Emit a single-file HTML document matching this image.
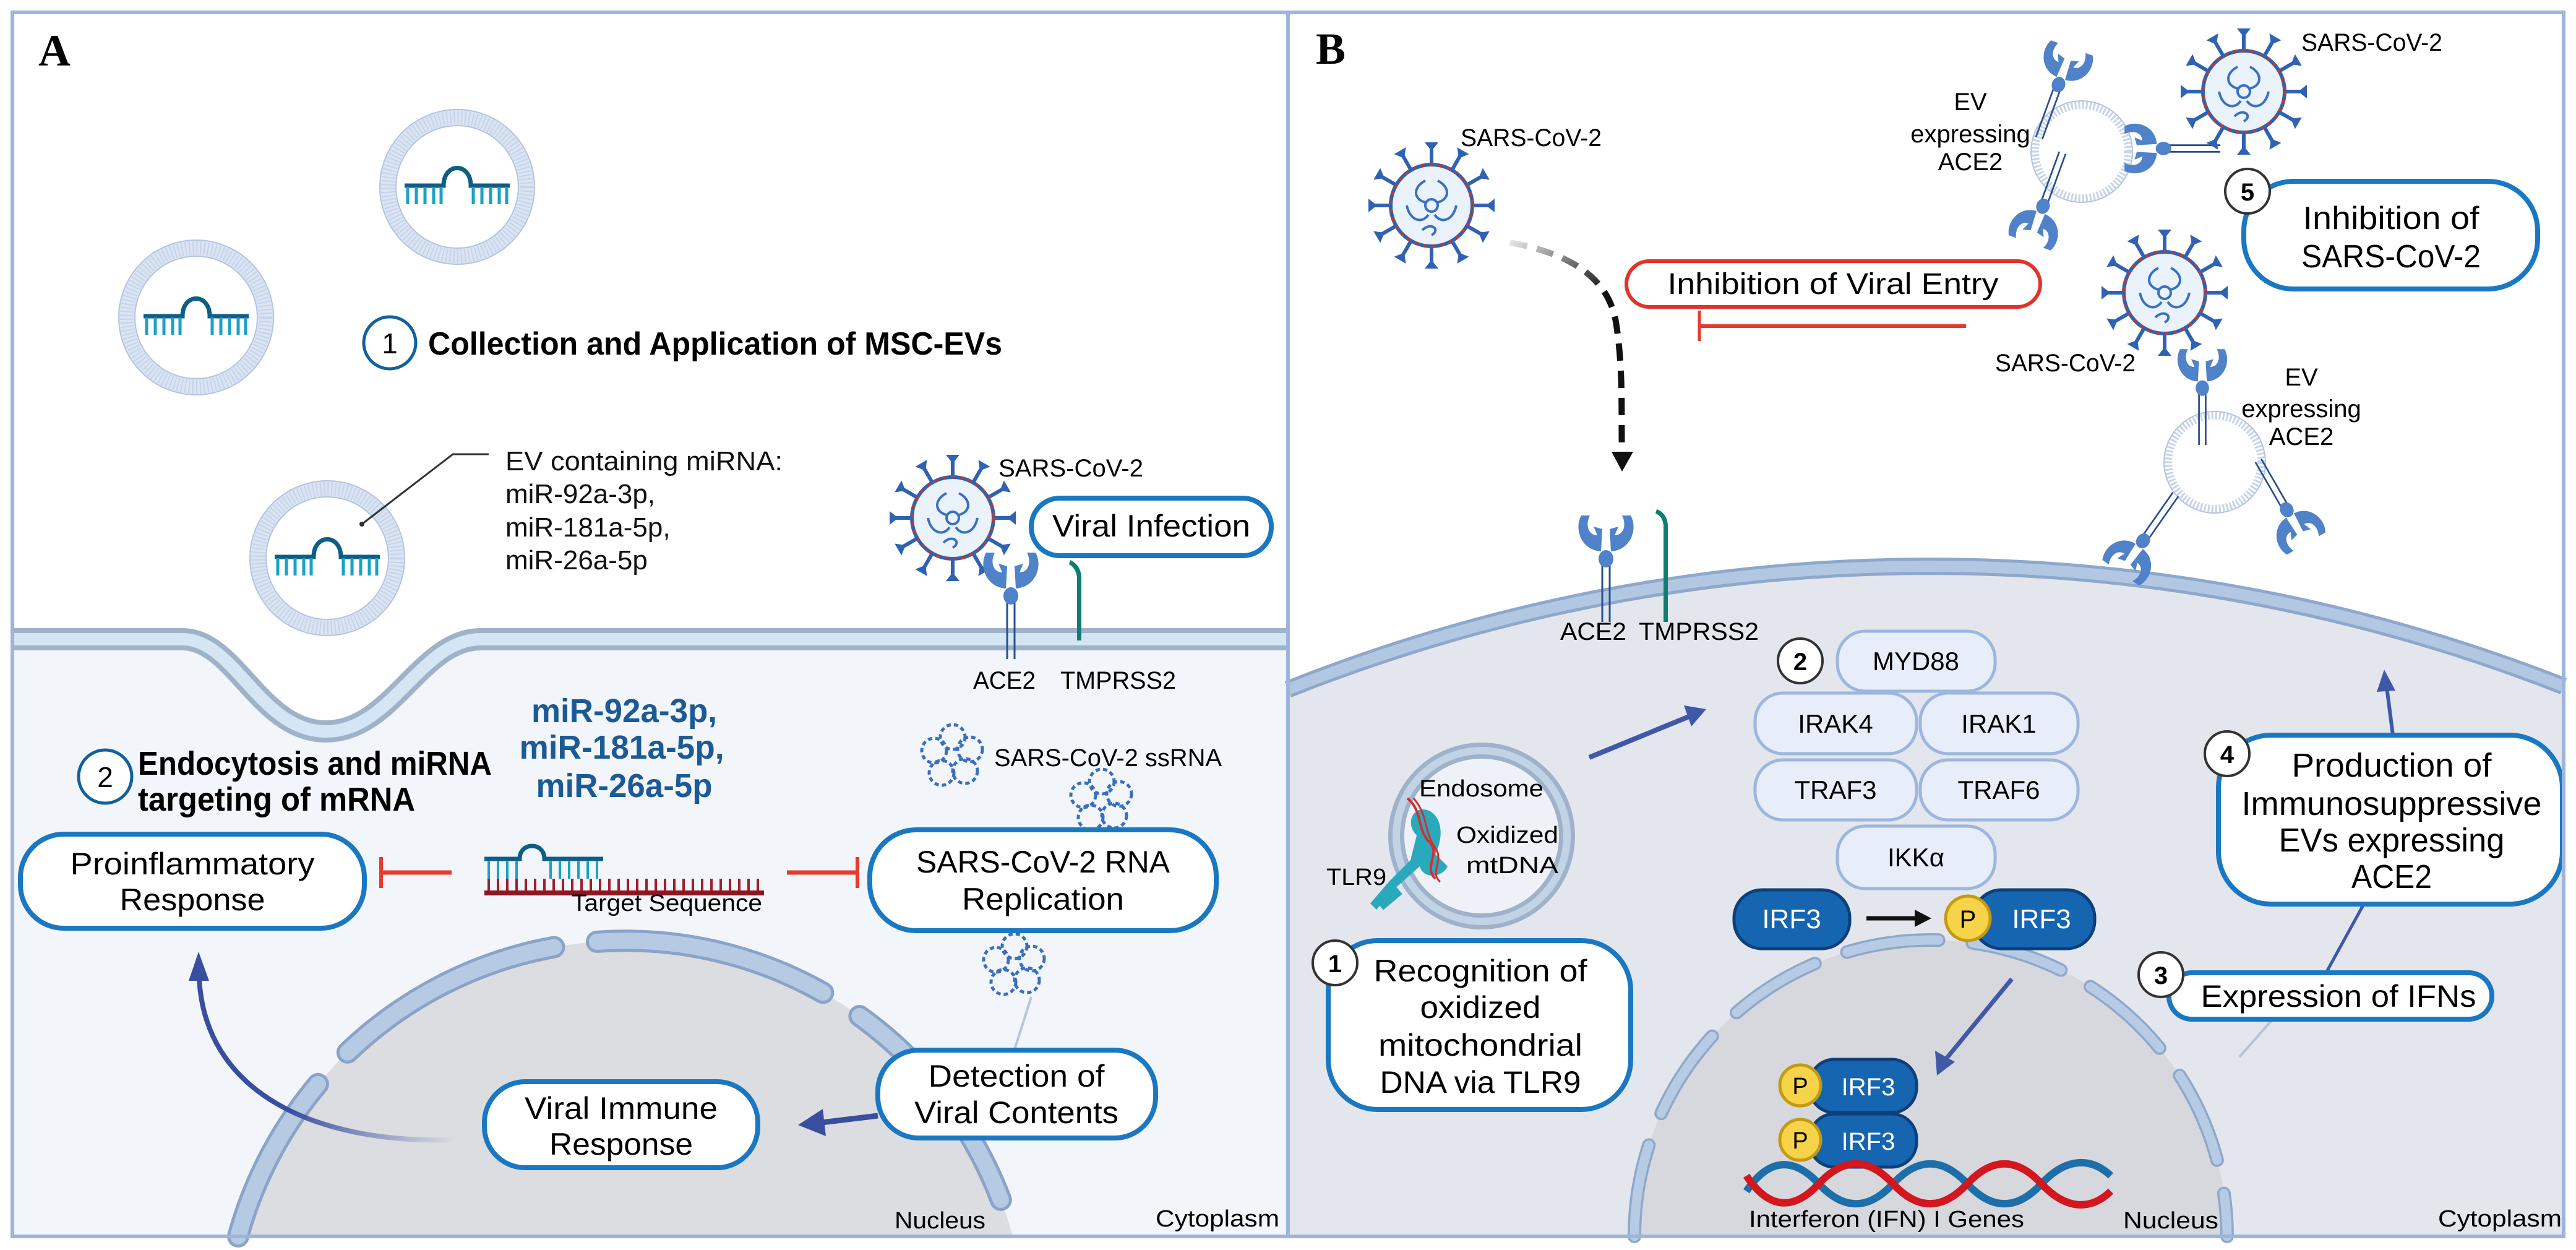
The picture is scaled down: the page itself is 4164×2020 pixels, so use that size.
<!DOCTYPE html>
<html><head><meta charset="utf-8">
<style>html,body{margin:0;padding:0;background:#fff;overflow:hidden;width:4164px;height:2020px}svg{display:block}text{font-family:"Liberation Sans",sans-serif}</style>
</head><body>
<svg width="4164" height="2020" viewBox="0 0 4164 2020" xmlns="http://www.w3.org/2000/svg">
<defs>
<g id="spike"><line x1="0" y1="-66" x2="0" y2="-92" stroke="#2f62b3" stroke-width="6"/><path d="M-11,-102 L11,-102 L0,-88 Z" fill="#2f62b3"/></g>
<g id="virus">
 <use href="#spike" transform="rotate(0)"/><use href="#spike" transform="rotate(30)"/><use href="#spike" transform="rotate(60)"/><use href="#spike" transform="rotate(90)"/><use href="#spike" transform="rotate(120)"/><use href="#spike" transform="rotate(150)"/><use href="#spike" transform="rotate(180)"/><use href="#spike" transform="rotate(210)"/><use href="#spike" transform="rotate(240)"/><use href="#spike" transform="rotate(270)"/><use href="#spike" transform="rotate(300)"/><use href="#spike" transform="rotate(330)"/>
 <circle r="66" fill="#eaf2fb" stroke="#2f62b3" stroke-width="6"/>
 <circle r="66" fill="none" stroke="#c0392b" stroke-width="5" stroke-dasharray="5 9"/>
 <g fill="none" stroke="#3a70c2" stroke-width="4">
  <path d="M-10,-40 C-30,-30 -30,-10 -10,-5"/><path d="M10,-40 C30,-30 30,-10 10,-5"/>
  <path d="M-40,0 C-35,25 -15,30 -5,15"/><path d="M40,0 C35,25 15,30 5,15"/>
  <path d="M-15,40 C0,25 15,40 0,48"/><circle r="10"/>
 </g>
</g>
<g id="mirna">
 <path d="M-85,0 L-22,0 C-22,-38 22,-38 22,0 L85,0" fill="none" stroke="#0e5d86" stroke-width="7"/>
 <g stroke="#1aa2c6" stroke-width="5"><line x1="-80" y1="2" x2="-80" y2="30"/><line x1="-66" y1="2" x2="-66" y2="30"/><line x1="-52" y1="2" x2="-52" y2="30"/><line x1="-38" y1="2" x2="-38" y2="30"/><line x1="-26" y1="2" x2="-26" y2="30"/><line x1="26" y1="2" x2="26" y2="30"/><line x1="40" y1="2" x2="40" y2="30"/><line x1="54" y1="2" x2="54" y2="30"/><line x1="68" y1="2" x2="68" y2="30"/><line x1="80" y1="2" x2="80" y2="30"/></g>
</g>
<g id="ev">
 <circle r="112" fill="#fff" stroke="#dbe4f2" stroke-width="26"/>
 <circle r="112" fill="none" stroke="#c5d3ea" stroke-width="22" stroke-dasharray="2 4"/>
 <circle r="125" fill="none" stroke="#b3c4e0" stroke-width="2"/>
 <circle r="99" fill="none" stroke="#b3c4e0" stroke-width="2"/>
</g>
<g id="ace2">
 <line x1="-6" y1="0" x2="-6" y2="110" stroke="#2a4f8f" stroke-width="3"/>
 <line x1="6" y1="0" x2="6" y2="110" stroke="#2a4f8f" stroke-width="3"/>
 <ellipse cx="0" cy="8" rx="12" ry="14" fill="#4f82c8"/>
 <path d="M-8,-4 C-40,-6 -52,-40 -40,-62 L-26,-62 C-34,-46 -28,-30 -14,-30 L-20,-44 L-6,-40 Z" fill="#4f82c8"/>
 <path d="M8,-4 C40,-6 52,-40 40,-62 L26,-62 C34,-46 28,-30 14,-30 L20,-44 L6,-40 Z" fill="#4f82c8"/>
</g>
<g id="rna" fill="none" stroke="#3a6fc0" stroke-width="5" stroke-dasharray="7 5">
 <circle cx="0" cy="-30" r="20"/><circle cx="28" cy="-10" r="20"/><circle cx="20" cy="25" r="20"/><circle cx="-18" cy="28" r="20"/><circle cx="-30" cy="-8" r="20"/>
</g>
<linearGradient id="gA" gradientUnits="userSpaceOnUse" x1="740" y1="1840" x2="320" y2="1560"><stop offset="0" stop-color="#3a4ea0" stop-opacity="0"/><stop offset="0.5" stop-color="#3a4ea0"/><stop offset="1" stop-color="#3a4ea0"/></linearGradient>
<linearGradient id="gD" gradientUnits="userSpaceOnUse" x1="2441" y1="390" x2="2620" y2="600"><stop offset="0" stop-color="#111" stop-opacity="0.1"/><stop offset="0.6" stop-color="#111"/></linearGradient>
</defs>

<path d="M20,1033 L295,1033 C380,1033 420,1182 527,1182 C634,1182 680,1033 777,1033 L2082,1033 L2082,1998 L20,1998 Z" fill="#f2f5fa"/>
<path d="M385,1998 A649,649 0 0 1 1637,1998 Z" fill="#dcdde1"/>
<path d="M385,1998 A649,649 0 0 1 1637,1998" fill="none" stroke="#8aa3c8" stroke-width="36" stroke-dasharray="380 70" stroke-dashoffset="100" stroke-linecap="round"/>
<path d="M385,1998 A649,649 0 0 1 1637,1998" fill="none" stroke="#b6cae4" stroke-width="26" stroke-dasharray="380 70" stroke-dashoffset="100" stroke-linecap="round"/>
<path d="M23,1033 L295,1033 C380,1033 420,1182 527,1182 C634,1182 680,1033 777,1033 L2080,1033" fill="none" stroke="#9fb3c8" stroke-width="36"/>
<path d="M23,1033 L295,1033 C380,1033 420,1182 527,1182 C634,1182 680,1033 777,1033 L2080,1033" fill="none" stroke="#d4e6f4" stroke-width="20"/>
<text x="62" y="106" font-weight="bold" font-size="72" style="font-family:'Liberation Serif',serif">A</text>

<use href="#ev" x="739" y="302"/><use href="#mirna" x="739" y="300"/>
<use href="#ev" x="317" y="513"/><use href="#mirna" x="317" y="511"/>
<use href="#ev" x="529" y="902"/><use href="#mirna" x="529" y="900"/>

<circle cx="630" cy="554" r="42" fill="#fff" stroke="#12609c" stroke-width="5"/>
<text x="630" y="571" text-anchor="middle" font-size="46">1</text>
<text x="692" y="573" font-size="52" font-weight="bold" textLength="928" lengthAdjust="spacingAndGlyphs">Collection and Application of MSC-EVs</text>

<polyline points="790,734 732,734 585,847" fill="none" stroke="#333" stroke-width="3"/>
<circle cx="585" cy="847" r="4" fill="#333"/>
<g font-size="44" fill="#111">
 <text x="817" y="760" textLength="448" lengthAdjust="spacingAndGlyphs">EV containing miRNA:</text>
 <text x="817" y="813">miR-92a-3p,</text>
 <text x="817" y="867">miR-181a-5p,</text>
 <text x="817" y="920">miR-26a-5p</text>
</g>

<use href="#virus" x="1540" y="837"/>
<text x="1614" y="770" font-size="40" textLength="234" lengthAdjust="spacingAndGlyphs">SARS-CoV-2</text>
<use href="#ace2" x="1634" y="955"/>
<path d="M1741,1035 L1741,935 C1741,925 1735,915 1728,912 L1730,905 C1740,910 1748,918 1748,935 L1748,1035 Z" fill="#0f7d74"/>
<rect x="1667" y="805" width="388" height="93" rx="46" fill="#fff" stroke="#1a78c2" stroke-width="8"/>
<text x="1861" y="867" text-anchor="middle" font-size="50" textLength="320" lengthAdjust="spacingAndGlyphs">Viral Infection</text>
<text x="1573" y="1113" font-size="40" textLength="101" lengthAdjust="spacingAndGlyphs">ACE2</text>
<text x="1714" y="1113" font-size="40" textLength="187" lengthAdjust="spacingAndGlyphs">TMPRSS2</text>

<circle cx="170" cy="1255" r="43" fill="#fff" stroke="#12609c" stroke-width="5"/>
<text x="170" y="1272" text-anchor="middle" font-size="46">2</text>
<text x="223" y="1252" font-size="54" font-weight="bold" textLength="572" lengthAdjust="spacingAndGlyphs">Endocytosis and miRNA</text>
<text x="223" y="1310" font-size="54" font-weight="bold" textLength="448" lengthAdjust="spacingAndGlyphs">targeting of mRNA</text>
<g fill="#1c5a96" font-weight="bold" font-size="54" text-anchor="middle">
 <text x="1009" y="1167" textLength="300" lengthAdjust="spacingAndGlyphs">miR-92a-3p,</text>
 <text x="1005" y="1226" textLength="331" lengthAdjust="spacingAndGlyphs">miR-181a-5p,</text>
 <text x="1009" y="1288" textLength="285" lengthAdjust="spacingAndGlyphs">miR-26a-5p</text>
</g>

<use href="#rna" x="1540" y="1221"/><use href="#rna" x="1781" y="1293"/><use href="#rna" x="1640" y="1559"/>
<text x="1607" y="1238" font-size="40" textLength="368" lengthAdjust="spacingAndGlyphs">SARS-CoV-2 ssRNA</text>

<rect x="33" y="1348" width="556" height="152" rx="70" fill="#fff" stroke="#1a78c2" stroke-width="8"/>
<text x="311" y="1413" text-anchor="middle" font-size="50" textLength="395" lengthAdjust="spacingAndGlyphs">Proinflammatory</text>
<text x="311" y="1471" text-anchor="middle" font-size="50" textLength="235" lengthAdjust="spacingAndGlyphs">Response</text>
<line x1="730" y1="1410" x2="616" y2="1410" stroke="#e53b2f" stroke-width="7"/>
<line x1="616" y1="1385" x2="616" y2="1435" stroke="#e53b2f" stroke-width="6"/>
<path d="M783,1388 L840,1388 C840,1360 880,1360 880,1388 L975,1388" fill="none" stroke="#0e5d86" stroke-width="7"/>
<g stroke="#1aa2c6" stroke-width="4"><line x1="790" y1="1392" x2="790" y2="1420"/><line x1="805" y1="1392" x2="805" y2="1420"/><line x1="820" y1="1392" x2="820" y2="1420"/><line x1="835" y1="1392" x2="835" y2="1420"/><line x1="890" y1="1392" x2="890" y2="1420"/><line x1="905" y1="1392" x2="905" y2="1420"/><line x1="920" y1="1392" x2="920" y2="1420"/><line x1="935" y1="1392" x2="935" y2="1420"/><line x1="950" y1="1392" x2="950" y2="1420"/><line x1="965" y1="1392" x2="965" y2="1420"/></g>
<g stroke="#a01f2a" stroke-width="4"><path d="M790,1420 V1440 M805,1420 V1440 M820,1420 V1440 M835,1420 V1440 M850,1420 V1440 M865,1420 V1440 M880,1420 V1440 M895,1420 V1440 M910,1420 V1440 M925,1420 V1440 M940,1420 V1440 M955,1420 V1440 M970,1420 V1440 M985,1420 V1440 M1000,1420 V1440 M1015,1420 V1440 M1030,1420 V1440 M1045,1420 V1440 M1060,1420 V1440 M1075,1420 V1440 M1090,1420 V1440 M1105,1420 V1440 M1120,1420 V1440 M1135,1420 V1440 M1150,1420 V1440 M1165,1420 V1440 M1180,1420 V1440 M1195,1420 V1440 M1210,1420 V1440 M1225,1420 V1440"/></g>
<line x1="783" y1="1443" x2="1235" y2="1443" stroke="#8e1620" stroke-width="8"/>
<text x="924" y="1472" font-size="38" textLength="308" lengthAdjust="spacingAndGlyphs">Target Sequence</text>
<line x1="1272" y1="1410" x2="1386" y2="1410" stroke="#e53b2f" stroke-width="7"/>
<line x1="1386" y1="1385" x2="1386" y2="1435" stroke="#e53b2f" stroke-width="6"/>
<rect x="1406" y="1341" width="560" height="163" rx="75" fill="#fff" stroke="#1a78c2" stroke-width="8"/>
<text x="1686" y="1410" text-anchor="middle" font-size="50" textLength="410" lengthAdjust="spacingAndGlyphs">SARS-CoV-2 RNA</text>
<text x="1686" y="1470" text-anchor="middle" font-size="50" textLength="262" lengthAdjust="spacingAndGlyphs">Replication</text>
<line x1="1667" y1="1611" x2="1640" y2="1696" stroke="#b7c6dc" stroke-width="4"/>

<path d="M740,1842 C500,1850 330,1760 322,1580" fill="none" stroke="url(#gA)" stroke-width="8"/>
<path d="M305,1585 L321,1538 L338,1585 Z" fill="#3a4ea0"/>
<rect x="783" y="1748" width="442" height="139" rx="66" fill="#fff" stroke="#1a78c2" stroke-width="8"/>
<text x="1004" y="1808" text-anchor="middle" font-size="50" textLength="312" lengthAdjust="spacingAndGlyphs">Viral Immune</text>
<text x="1004" y="1866" text-anchor="middle" font-size="50" textLength="232" lengthAdjust="spacingAndGlyphs">Response</text>
<rect x="1419" y="1697" width="449" height="142" rx="66" fill="#fff" stroke="#1a78c2" stroke-width="8"/>
<text x="1643" y="1756" text-anchor="middle" font-size="50" textLength="285" lengthAdjust="spacingAndGlyphs">Detection of</text>
<text x="1643" y="1815" text-anchor="middle" font-size="50" textLength="330" lengthAdjust="spacingAndGlyphs">Viral Contents</text>
<line x1="1419" y1="1803" x2="1320" y2="1815" stroke="#3a4ea0" stroke-width="9"/>
<path d="M1330,1792 L1290,1818 L1335,1836 Z" fill="#3a4ea0"/>
<text x="1446" y="1985" font-size="38" textLength="147" lengthAdjust="spacingAndGlyphs">Nucleus</text>
<text x="1868" y="1982" font-size="38" textLength="200" lengthAdjust="spacingAndGlyphs">Cytoplasm</text>

<!-- PANEL B -->
<path d="M2082,1114 A2804,2804 0 0 1 4144,1109 L4144,1998 L2082,1998 Z" fill="#e3e7ed"/>
<path d="M2082,1114 A2804,2804 0 0 1 4144,1109" fill="none" stroke="#8ea8cb" stroke-width="28"/>
<path d="M2082,1114 A2804,2804 0 0 1 4144,1109" fill="none" stroke="#b2c7e2" stroke-width="18"/>
<path d="M2642,1998 A479,479 0 0 1 3600,1998 Z" fill="#d6d8dd"/>
<path d="M2642,1998 A479,479 0 0 1 3600,1998" fill="none" stroke="#8ea8cb" stroke-width="22" stroke-dasharray="150 55" stroke-linecap="round"/>
<path d="M2642,1998 A479,479 0 0 1 3600,1998" fill="none" stroke="#b8cbe4" stroke-width="15" stroke-dasharray="150 55" stroke-linecap="round"/>
<text x="2127" y="103" font-weight="bold" font-size="72" style="font-family:'Liberation Serif',serif">B</text>

<use href="#virus" x="2314" y="332"/>
<text x="2361" y="236" font-size="40" textLength="228" lengthAdjust="spacingAndGlyphs">SARS-CoV-2</text>
<path d="M2441,392 C2540,410 2600,450 2612,520 C2625,600 2620,680 2622,735" fill="none" stroke="url(#gD)" stroke-width="10" stroke-dasharray="28 16"/>
<path d="M2605,730 L2622,762 L2640,730 Z" fill="#111"/>
<rect x="2629" y="422" width="669" height="74" rx="37" fill="#fff" stroke="#e0332a" stroke-width="6"/>
<text x="2963" y="475" text-anchor="middle" font-size="48" textLength="535" lengthAdjust="spacingAndGlyphs">Inhibition of Viral Entry</text>
<line x1="3178" y1="527" x2="2747" y2="527" stroke="#e53b2f" stroke-width="6"/>
<line x1="2747" y1="502" x2="2747" y2="551" stroke="#e53b2f" stroke-width="5"/>

<g fill="none" stroke="#c7d4ea" stroke-width="12" stroke-dasharray="3 3"><circle cx="3365" cy="245" r="75"/><circle cx="3580" cy="747" r="75"/></g>
<g fill="none" stroke="#b3c4e0" stroke-width="2"><circle cx="3365" cy="245" r="82"/><circle cx="3580" cy="747" r="82"/></g>
<use href="#ace2" transform="translate(3330,130) rotate(20) scale(0.9)"/>
<use href="#ace2" transform="translate(3300,340) rotate(200) scale(0.9)"/>
<use href="#ace2" transform="translate(3490,240) rotate(-90) scale(0.9)"/>
<use href="#ace2" transform="translate(3560,620) scale(0.9)"/>
<use href="#ace2" transform="translate(3460,880) rotate(215) scale(0.9)"/>
<use href="#ace2" transform="translate(3700,830) rotate(150) scale(0.9)"/>
<g font-size="40" text-anchor="middle">
 <text x="3185" y="178">EV</text><text x="3185" y="230">expressing</text><text x="3185" y="275">ACE2</text>
 <text x="3720" y="623">EV</text><text x="3720" y="674">expressing</text><text x="3720" y="719">ACE2</text>
</g>
<use href="#virus" x="3627" y="148"/>
<text x="3720" y="82" font-size="40" textLength="228" lengthAdjust="spacingAndGlyphs">SARS-CoV-2</text>
<use href="#virus" x="3499" y="473"/>
<text x="3225" y="600" font-size="40" textLength="227" lengthAdjust="spacingAndGlyphs">SARS-CoV-2</text>
<rect x="3627" y="293" width="475" height="174" rx="80" fill="#fff" stroke="#1a78c2" stroke-width="8"/>
<circle cx="3633" cy="309" r="36" fill="#fff" stroke="#333" stroke-width="4"/>
<text x="3633" y="324" text-anchor="middle" font-size="40" font-weight="bold">5</text>
<text x="3865" y="370" text-anchor="middle" font-size="52" textLength="285" lengthAdjust="spacingAndGlyphs">Inhibition of</text>
<text x="3865" y="432" text-anchor="middle" font-size="52" textLength="290" lengthAdjust="spacingAndGlyphs">SARS-CoV-2</text>

<use href="#ace2" x="2596" y="895"/>
<path d="M2689,1005 L2689,850 C2689,840 2683,832 2676,830 L2678,823 C2688,826 2696,836 2696,850 L2696,1005 Z" fill="#0f7d74"/>
<text x="2522" y="1034" font-size="40" textLength="107" lengthAdjust="spacingAndGlyphs">ACE2</text>
<text x="2649" y="1034" font-size="40" textLength="194" lengthAdjust="spacingAndGlyphs">TMPRSS2</text>

<g fill="#e7eef9" stroke="#9cb6de" stroke-width="5">
 <rect x="2970" y="1020" width="255" height="97" rx="45"/>
 <rect x="2837" y="1120" width="261" height="98" rx="45"/>
 <rect x="3104" y="1120" width="255" height="98" rx="45"/>
 <rect x="2837" y="1228" width="261" height="97" rx="45"/>
 <rect x="3104" y="1228" width="255" height="97" rx="45"/>
 <rect x="2970" y="1335" width="255" height="101" rx="45"/>
</g>
<g font-size="42" text-anchor="middle">
 <text x="3097" y="1083">MYD88</text>
 <text x="2967" y="1184">IRAK4</text><text x="3231" y="1184">IRAK1</text>
 <text x="2967" y="1291">TRAF3</text><text x="3231" y="1291">TRAF6</text>
 <text x="3097" y="1400">IKKα</text>
</g>
<circle cx="2910" cy="1068" r="36" fill="#fff" stroke="#333" stroke-width="4"/>
<text x="2910" y="1083" text-anchor="middle" font-size="40" font-weight="bold">2</text>

<rect x="2803" y="1438" width="187" height="95" rx="45" fill="#1565b0" stroke="#0d3f7a" stroke-width="5"/>
<text x="2896" y="1500" text-anchor="middle" font-size="44" fill="#fff">IRF3</text>
<line x1="3017" y1="1484" x2="3100" y2="1484" stroke="#111" stroke-width="7"/>
<path d="M3095,1470 L3122,1484 L3095,1498 Z" fill="#111"/>
<rect x="3190" y="1438" width="196" height="95" rx="45" fill="#1565b0" stroke="#0d3f7a" stroke-width="5"/>
<text x="3300" y="1500" text-anchor="middle" font-size="44" fill="#fff">IRF3</text>
<circle cx="3181" cy="1484" r="36" fill="#f6d348" stroke="#c39a10" stroke-width="5"/>
<text x="3181" y="1499" text-anchor="middle" font-size="40">P</text>

<circle cx="2395" cy="1351" r="138" fill="#eef2f8" stroke="#9fb2ca" stroke-width="26"/>
<circle cx="2395" cy="1351" r="138" fill="none" stroke="#c3d3e6" stroke-width="12"/>
<text x="2294" y="1287" font-size="38" textLength="201" lengthAdjust="spacingAndGlyphs">Endosome</text>
<text x="2354" y="1362" font-size="38" textLength="165" lengthAdjust="spacingAndGlyphs">Oxidized</text>
<text x="2370" y="1411" font-size="38" textLength="149" lengthAdjust="spacingAndGlyphs">mtDNA</text>
<text x="2144" y="1430" font-size="38" textLength="97" lengthAdjust="spacingAndGlyphs">TLR9</text>
<g fill="#2aa8bc">
 <path d="M2290,1350 C2270,1330 2285,1300 2310,1310 C2330,1320 2335,1350 2320,1380 L2340,1400 C2330,1420 2300,1420 2295,1400 L2250,1440 L2225,1470 L2215,1460 L2245,1425 L2280,1390 Z"/>
 <rect x="2225" y="1440" width="40" height="20" transform="rotate(-40 2245 1450)"/>
</g>
<path d="M2275,1290 C2300,1310 2290,1340 2310,1360 C2330,1380 2300,1400 2320,1420" fill="none" stroke="#d32f2f" stroke-width="4"/>
<path d="M2285,1290 C2310,1320 2300,1340 2320,1370 C2335,1390 2310,1410 2328,1425" fill="none" stroke="#d32f2f" stroke-width="3"/>
<line x1="2569" y1="1224" x2="2730" y2="1158" stroke="#3f58a8" stroke-width="8"/>
<path d="M2722,1140 L2758,1146 L2734,1174 Z" fill="#3f58a8"/>

<rect x="2147" y="1520" width="489" height="273" rx="80" fill="#fff" stroke="#1a78c2" stroke-width="8"/>
<circle cx="2158" cy="1556" r="36" fill="#fff" stroke="#333" stroke-width="4"/>
<text x="2158" y="1571" text-anchor="middle" font-size="40" font-weight="bold">1</text>
<g font-size="50" text-anchor="middle">
 <text x="2393" y="1586" textLength="345" lengthAdjust="spacingAndGlyphs">Recognition of</text>
 <text x="2393" y="1645" textLength="195" lengthAdjust="spacingAndGlyphs">oxidized</text>
 <text x="2393" y="1706" textLength="330" lengthAdjust="spacingAndGlyphs">mitochondrial</text>
 <text x="2393" y="1766" textLength="325" lengthAdjust="spacingAndGlyphs">DNA via TLR9</text>
</g>

<line x1="3252" y1="1582" x2="3145" y2="1712" stroke="#3f58a8" stroke-width="7"/>
<path d="M3128,1698 L3131,1738 L3160,1716 Z" fill="#3f58a8"/>
<rect x="2925" y="1712" width="173" height="86" rx="40" fill="#1565b0" stroke="#0d3f7a" stroke-width="5"/>
<rect x="2925" y="1800" width="173" height="86" rx="40" fill="#1565b0" stroke="#0d3f7a" stroke-width="5"/>
<text x="3020" y="1770" text-anchor="middle" font-size="40" fill="#fff">IRF3</text>
<text x="3020" y="1858" text-anchor="middle" font-size="40" fill="#fff">IRF3</text>
<circle cx="2910" cy="1754" r="33" fill="#f6d348" stroke="#c39a10" stroke-width="5"/>
<circle cx="2910" cy="1842" r="33" fill="#f6d348" stroke="#c39a10" stroke-width="5"/>
<text x="2910" y="1768" text-anchor="middle" font-size="38">P</text>
<text x="2910" y="1856" text-anchor="middle" font-size="38">P</text>
<path d="M2823,1925 C2860,1870 2900,1870 2940,1913 S3020,1956 3060,1913 S3140,1870 3180,1913 S3260,1956 3300,1913 S3380,1870 3412,1900" fill="none" stroke="#1c6fa8" stroke-width="12"/>
<path d="M2823,1900 C2860,1956 2900,1956 2940,1913 S3020,1870 3060,1913 S3140,1956 3180,1913 S3260,1870 3300,1913 S3380,1956 3412,1925" fill="none" stroke="#d4161e" stroke-width="12"/>
<text x="2827" y="1983" font-size="38" textLength="445" lengthAdjust="spacingAndGlyphs">Interferon (IFN) I Genes</text>
<text x="3432" y="1985" font-size="38" textLength="154" lengthAdjust="spacingAndGlyphs">Nucleus</text>
<text x="3941" y="1982" font-size="38" textLength="200" lengthAdjust="spacingAndGlyphs">Cytoplasm</text>

<line x1="3620" y1="1708" x2="3680" y2="1640" stroke="#b5c3d8" stroke-width="4"/>
<line x1="3760" y1="1572" x2="3821" y2="1461" stroke="#3f58a8" stroke-width="5"/>
<rect x="3506" y="1572" width="522" height="75" rx="37" fill="#fff" stroke="#1a78c2" stroke-width="8"/>
<circle cx="3493" cy="1575" r="36" fill="#fff" stroke="#333" stroke-width="4"/>
<text x="3493" y="1590" text-anchor="middle" font-size="40" font-weight="bold">3</text>
<text x="3780" y="1627" text-anchor="middle" font-size="50" textLength="445" lengthAdjust="spacingAndGlyphs">Expression of IFNs</text>

<line x1="3868" y1="1188" x2="3858" y2="1110" stroke="#3f58a8" stroke-width="6"/>
<path d="M3842,1118 L3854,1082 L3872,1116 Z" fill="#3f58a8"/>
<rect x="3586" y="1188" width="556" height="273" rx="85" fill="#fff" stroke="#1a78c2" stroke-width="8"/>
<circle cx="3600" cy="1218" r="36" fill="#fff" stroke="#333" stroke-width="4"/>
<text x="3600" y="1233" text-anchor="middle" font-size="40" font-weight="bold">4</text>
<g font-size="54" text-anchor="middle">
 <text x="3866" y="1255" textLength="323" lengthAdjust="spacingAndGlyphs">Production of</text>
 <text x="3866" y="1317" textLength="485" lengthAdjust="spacingAndGlyphs">Immunosuppressive</text>
 <text x="3866" y="1376" textLength="365" lengthAdjust="spacingAndGlyphs">EVs expressing</text>
 <text x="3866" y="1435" textLength="130" lengthAdjust="spacingAndGlyphs">ACE2</text>
</g>

<rect x="20" y="20" width="4124" height="1978" fill="none" stroke="#9db5dc" stroke-width="6"/>
<line x1="2082" y1="20" x2="2082" y2="1998" stroke="#9db5dc" stroke-width="6"/>
</svg>
</body></html>
